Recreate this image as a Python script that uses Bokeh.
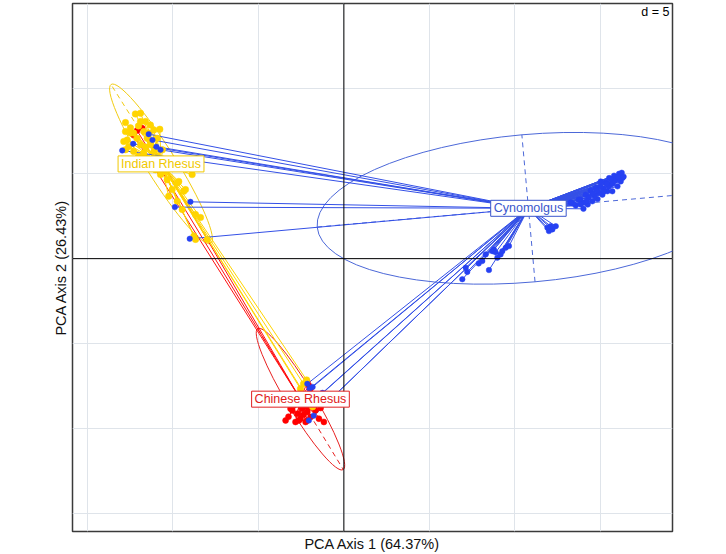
import numpy as np
from bokeh.plotting import figure
from bokeh.models import Label, Span, FixedTicker
from bokeh.embed import file_html
from bokeh.resources import INLINE

# ---------------- data (PCA coordinates) ----------------
group_names = ["Chinese Rhesus", "Indian Rhesus", "Cynomolgus"]

indian_x = [-12.20, -11.90, -11.61, -11.32, -12.78, -12.49, -12.78, -12.30, -11.71, -11.42,
            -11.12, -10.77, -12.68, -12.10, -11.51, -10.93, -12.59, -11.90, -11.32, -12.78,
            -12.30, -11.71, -11.12, -12.02, -11.90, -12.88, -12.49, -12.02, -11.61, -10.62,
            -10.44, -8.88, -9.75, -9.37, -10.25, -9.75, -9.46, -8.68, -8.78, -8.00,
            -10.34, -10.05, -9.27, -8.39, -8.68, -9.66, -10.73, -11.03,
            -2.36, -2.18, -1.83, -2.54]
indian_y = [8.51, 8.06, 8.06, 7.86, 8.00, 7.69, 7.47, 7.38, 7.47, 7.38,
            7.57, 7.61, 6.98, 7.08, 7.08, 7.08, 6.59, 6.69, 6.69, 6.40,
            6.30, 6.21, 6.30, 6.01, 8.55, 6.89, 7.38, 7.80, 6.56, 6.40,
            5.13, 4.94, 4.45, 3.96, 3.67, 3.37, 2.89, 2.59, 1.32, 1.13,
            4.64, 4.06, 4.06, 2.42, 1.13, 4.54, 4.94, 5.23,
            -7.36, -7.13, -8.71, -7.65]

chinese_x = [-3.41, -3.02, -2.73, -2.44, -2.14, -1.95, -1.66, -1.36, -2.54, -2.83,
             -2.24, -1.17, -2.93, -3.12, -2.54, -1.46, -2.14, -2.63, -1.76, -3.24,
             -2.36, -2.07, -2.14, -2.05, -1.95,
             -12.10, -11.80, -12.31]
chinese_y = [-9.51, -8.92, -9.12, -8.82, -9.02, -9.31, -8.92, -8.78, -9.41, -9.60,
             -9.60, -9.60, -8.63, -8.82, -8.63, -9.41, -9.51, -9.51, -8.72, -9.29,
             -9.17, -8.77, -7.26, -7.46, -7.64,
             7.53, 7.67, 7.28]

cyno_x = [-11.42, -12.33, -12.97, -11.20, -10.97, -10.73, -8.98, -9.89, -9.02,
          -2.14, -2.01, -2.05, -1.77, -1.48, -1.25, -1.83,
          14.02, 14.54, 14.84, 15.13, 15.42, 15.71, 16.01, 16.20, 16.30, 16.10,
          15.81, 15.52, 15.03, 16.20, 13.57, 14.27, 15.61, 14.74, 14.15, 15.32,
          14.44, 15.91, 13.86, 14.91, 13.40, 13.74, 14.68, 15.20, 15.73, 16.14,
          14.09, 15.50, 13.27, 14.33, 14.56, 15.03, 15.38, 15.85, 16.03, 14.80,
          14.21, 13.86, 15.61, 15.20, 16.26, 16.37,
          12.00, 12.20, 12.40, 12.10, 11.91,
          6.93, 7.22, 7.13, 8.10, 8.30, 8.49, 8.69, 8.78, 8.98, 9.17, 9.27, 9.47, 9.66,
          7.89, 8.88]
cyno_y = [7.32, 6.75, 6.36, 6.98, 6.58, 6.40, 3.34, 3.03, 1.17,
          -7.36, -7.65, -9.51, -9.23, -8.12, -7.89, -7.54,
          2.93, 3.37, 3.51, 3.76, 3.96, 3.96, 4.25, 4.54, 4.74, 4.99,
          4.88, 4.74, 4.54, 4.94, 3.12, 3.18, 4.36, 4.17, 3.76, 4.47,
          4.00, 4.64, 3.47, 3.88, 3.24, 3.47, 3.65, 4.12, 4.41, 4.76,
          3.30, 4.24, 3.30, 3.59, 3.82, 4.23, 4.41, 4.58, 4.82, 4.00,
          3.41, 3.18, 4.70, 3.94, 5.05, 4.82,
          1.62, 1.72, 1.91, 1.91, 1.82,
          -1.21, -0.78, -0.53, -0.14, 0.25, -0.67, 0.44, 0.54, 0.06, 0.25, 0.44, 0.64, 0.74,
          -0.28, 0.37]

# group centres (label positions)
centre_x = [-2.54, -10.70, 10.80]
centre_y = [-8.26, 5.57, 2.96]

# ellipse semi-axes and orientation (degrees)
ell_a = [4.82, 5.49, 12.41]
ell_b = [0.80, 0.88, 4.34]
ell_angle = [-58.8, 122.1, 5.1]

grid_ticks = [-15, -10, -5, 0, 5, 10, 15]
x_label = "PCA Axis 1 (64.37%)"
y_label = "PCA Axis 2 (26.43%)"
scale_text = "d = 5"

# ---------------- style ----------------
point_colors = ["#FF0000", "#FFD400", "#2641F2"]
line_colors = ["#FF1010", "#FFD400", "#3450E6"]
ell_colors = ["#E82020", "#F2CC10", "#4C68D8"]
text_colors = ["#E02020", "#F0C800", "#3B56CC"]
point_sizes = [6, 6.5, 5.5]

X0, X1 = -15.88, 19.23
Y0, Y1 = -16.04, 15.0

p = figure(width=690, height=554, x_range=(X0, X1), y_range=(Y0, Y1),
           output_backend="svg", toolbar_location=None,
           min_border_left=72, min_border_right=18, min_border_top=3, min_border_bottom=21)
p.background_fill_color = "white"
p.border_fill_color = "white"
p.outline_line_color = "#3a3a3a"
p.outline_line_width = 1.5

for ax, lab in ((p.xaxis, x_label), (p.yaxis, y_label)):
    ax.ticker = FixedTicker(ticks=[])
    ax.axis_label = lab
    ax.axis_label_text_font = "Liberation Sans"
    ax.axis_label_text_font_style = "normal"
    ax.axis_label_text_font_size = "14.5px"
    ax.axis_label_text_color = "#111111"
    ax.axis_label_standoff = 4
    ax.major_label_standoff = 0
    ax.major_tick_line_color = None
    ax.minor_tick_line_color = None
    ax.axis_line_color = None

p.xgrid.ticker = FixedTicker(ticks=grid_ticks)
p.ygrid.ticker = FixedTicker(ticks=grid_ticks)
p.xgrid.grid_line_color = "#dfe4ea"
p.ygrid.grid_line_color = "#dfe4ea"
p.xgrid.grid_line_width = 1
p.ygrid.grid_line_width = 1

p.add_layout(Span(location=0, dimension="height", line_color="black", line_width=1))
p.add_layout(Span(location=0, dimension="width", line_color="black", line_width=1))

xs_all = [chinese_x, indian_x, cyno_x]
ys_all = [chinese_y, indian_y, cyno_y]

# ellipses + their dashed axes
for i in range(3):
    t = np.deg2rad(ell_angle[i])
    p.ellipse(x=[centre_x[i]], y=[centre_y[i]], width=[2 * ell_a[i]], height=[2 * ell_b[i]],
              angle=[t], fill_color=None, line_color=ell_colors[i], line_width=1)
    ux, uy = np.cos(t), np.sin(t)
    vx, vy = -np.sin(t), np.cos(t)
    cx, cy = centre_x[i], centre_y[i]
    p.segment(x0=[cx - ell_a[i] * ux, cx - ell_b[i] * vx], y0=[cy - ell_a[i] * uy, cy - ell_b[i] * vy],
              x1=[cx + ell_a[i] * ux, cx + ell_b[i] * vx], y1=[cy + ell_a[i] * uy, cy + ell_b[i] * vy],
              line_color=ell_colors[i], line_width=1, line_dash="5 4")

# star segments
for i in range(3):
    n = len(xs_all[i])
    p.segment(x0=[centre_x[i]] * n, y0=[centre_y[i]] * n, x1=xs_all[i], y1=ys_all[i],
              line_color=line_colors[i], line_width=1)

# points
for i in range(3):
    p.scatter(xs_all[i], ys_all[i], size=point_sizes[i], marker="circle",
              fill_color=point_colors[i], line_color=point_colors[i], line_width=0.5)

# group labels
for i in range(3):
    p.add_layout(Label(x=centre_x[i], y=centre_y[i], text=group_names[i],
                       text_align="center", text_baseline="middle",
                       text_font="Liberation Sans", text_font_size="12.5px",
                       text_color=text_colors[i],
                       background_fill_color="white", background_fill_alpha=1.0,
                       border_line_color=text_colors[i], border_line_width=1,
                       padding=(3, 1)))

p.add_layout(Label(x=X1 - 0.18, y=Y1 - 0.1, text=scale_text, text_align="right",
                   text_baseline="top", text_font="Liberation Sans",
                   text_font_size="12.5px", text_color="black"))

open("out.html", "w").write(file_html(p, INLINE))
